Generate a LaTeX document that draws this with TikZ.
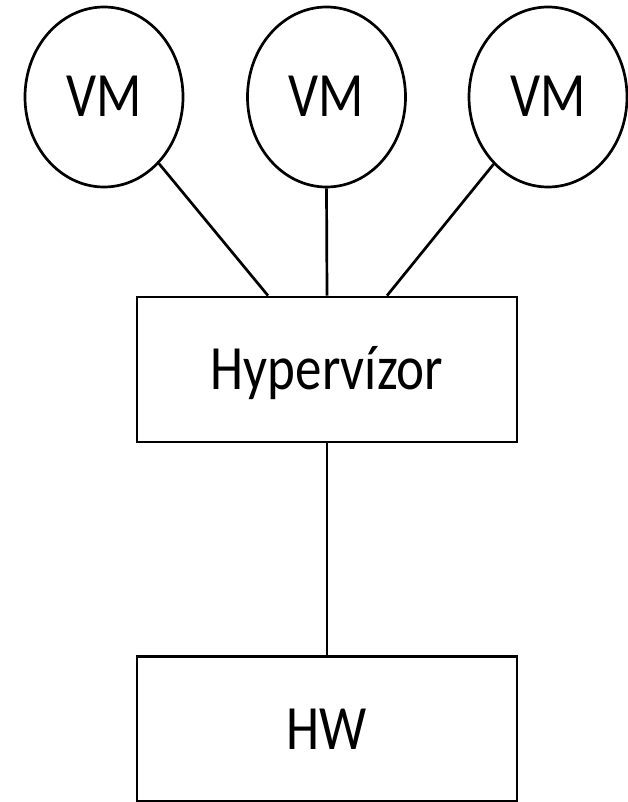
\documentclass[tikz,border=0pt]{standalone}
\usepackage{fontspec}
\usepackage{graphicx}
\setmainfont{Carlito}
\usetikzlibrary{shapes.geometric}

% labels are set a little taller than wide
\newcommand{\tall}[1]{\scalebox{1}[1.19]{#1}}

\tikzset{
  vmnode/.style={draw,ellipse,line width=2.7pt,inner sep=0pt,
    minimum width=158pt,minimum height=180pt},
  layer/.style={draw,rectangle,line width=2.7pt,inner sep=0pt,
    minimum width=380pt,minimum height=145pt},
  every node/.style={font=\fontsize{53}{60}\selectfont,
    text height=40pt,text depth=0pt},
  link/.style={line width=2.7pt}
}

\begin{document}
\begin{tikzpicture}[x=1pt,y=-1pt]
  \useasboundingbox (0,0) rectangle (628,802);

  \node[vmnode] (VM1) at (104,97) {\tall{VM}};
  \node[vmnode] (VM2) at (326.5,97) {\tall{VM}};
  \node[vmnode] (VM3) at (548,97) {\tall{VM}};

  \node[layer] (Hypervisor) at (327,369.5) {\tall{Hypervízor}};
  \node[layer] (HW) at (327,729) {\tall{HW}};

  \coordinate (HypLeft) at ([xshift=-59pt]Hypervisor.north);
  \coordinate (HypRight) at ([xshift=60pt]Hypervisor.north);

  \draw[link] (VM1) -- (HypLeft);
  \draw[link] (VM2.south) -- (Hypervisor.north);
  \draw[link] (VM3) -- (HypRight);
  \draw[link] (Hypervisor.south) -- (HW.north);
\end{tikzpicture}
\end{document}
